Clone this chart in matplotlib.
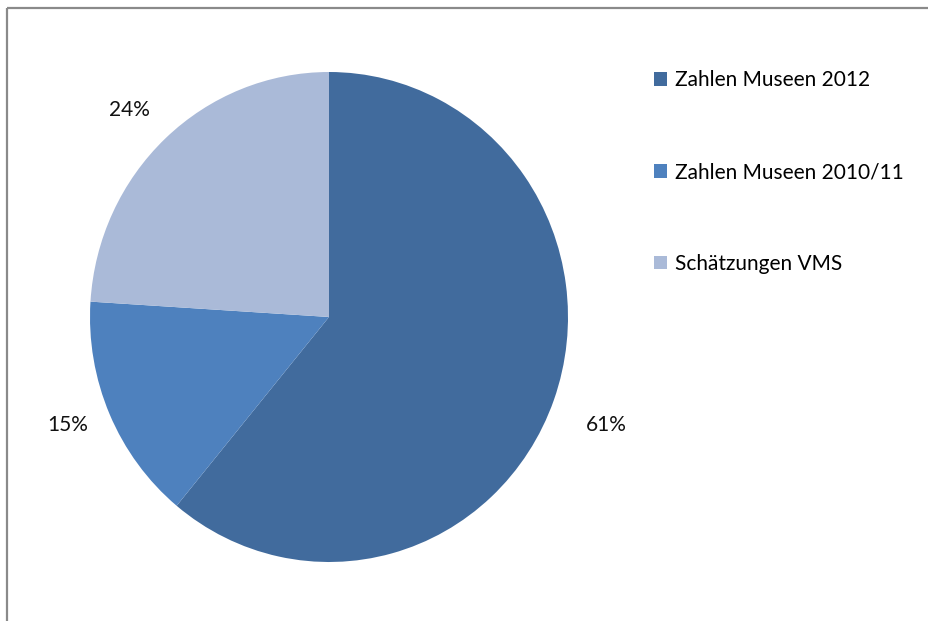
import matplotlib
matplotlib.use("Agg")
import numpy as np
import matplotlib.pyplot as plt
from matplotlib.lines import Line2D

labels = ["Zahlen Museen 2012", "Zahlen Museen 2010/11", "Schätzungen VMS"]
shares = [61, 15, 24]
colors = ["#416B9D", "#4E81BE", "#AABAD8"]
# where each percent label sits (radius factor, angle nudge in degrees)
label_dist = [1.24, 1.178, 1.187]
label_nudge = [-1.0, -1.4, 1.4]

plt.rcParams['font.family'] = ['Lato', 'DejaVu Sans']

fig = plt.figure(figsize=(9.29, 6.21), dpi=100)
W, H = 929.0, 621.0

# pie axes sized to the drawn ellipse (center 329,317 ; rx 239, ry 245)
ax = fig.add_axes([(329 - 239) / W, (H - 562) / H, 478 / W, 490 / H])
wedges, texts = ax.pie(shares, colors=colors, startangle=90, counterclock=False,
                       labels=[f"{s}%" for s in shares], labeldistance=1.2,
                       wedgeprops=dict(linewidth=0),
                       textprops=dict(fontsize=15, color="#111111"))
for w, t, d, n in zip(wedges, texts, label_dist, label_nudge):
    ang = np.deg2rad((w.theta1 + w.theta2) / 2 + n)
    t.set_position((d * np.cos(ang), d * np.sin(ang)))
    t.set_ha("center")
    t.set_va("center")
ax.set_aspect("auto")
ax.set_xlim(-1, 1)
ax.set_ylim(-1, 1)
ax.axis("off")

fig.legend(wedges, labels, loc="upper left", bbox_to_anchor=(644 / W, 1 - 60 / H),
           frameon=False, fontsize=15, handlelength=0.6, handleheight=0.6,
           handletextpad=0.4, labelspacing=3.45, borderpad=0)

# chart frame (left and top edges only)
fig.add_artist(Line2D([7.5 / W, 7.5 / W], [0, 1 - 7.5 / H], color="#8a8a8a", lw=1.6,
                      solid_capstyle="butt"))
fig.add_artist(Line2D([7.5 / W, 1], [1 - 7.5 / H, 1 - 7.5 / H], color="#8a8a8a", lw=1.6,
                      solid_capstyle="butt"))

fig.savefig("out.png", dpi=100)
